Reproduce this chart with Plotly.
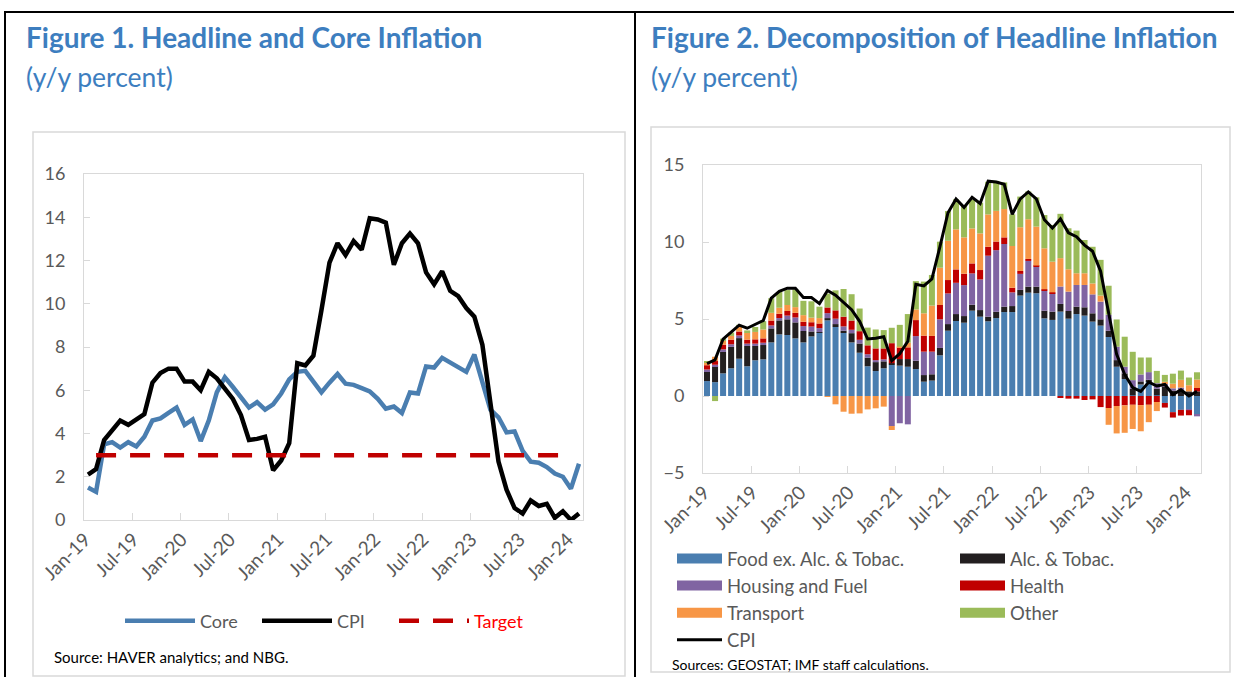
import plotly.graph_objects as go

# ---------------- data ----------------
months = ["Jan-19", "Feb-19", "Mar-19", "Apr-19", "May-19", "Jun-19", "Jul-19", "Aug-19", "Sep-19", "Oct-19", "Nov-19", "Dec-19",
          "Jan-20", "Feb-20", "Mar-20", "Apr-20", "May-20", "Jun-20", "Jul-20", "Aug-20", "Sep-20", "Oct-20", "Nov-20", "Dec-20",
          "Jan-21", "Feb-21", "Mar-21", "Apr-21", "May-21", "Jun-21", "Jul-21", "Aug-21", "Sep-21", "Oct-21", "Nov-21", "Dec-21",
          "Jan-22", "Feb-22", "Mar-22", "Apr-22", "May-22", "Jun-22", "Jul-22", "Aug-22", "Sep-22", "Oct-22", "Nov-22", "Dec-22",
          "Jan-23", "Feb-23", "Mar-23", "Apr-23", "May-23", "Jun-23", "Jul-23", "Aug-23", "Sep-23", "Oct-23", "Nov-23", "Dec-23",
          "Jan-24", "Feb-24"]

tick_labels = ["Jan-19", "Jul-19", "Jan-20", "Jul-20", "Jan-21", "Jul-21", "Jan-22", "Jul-22", "Jan-23", "Jul-23", "Jan-24"]

cpi = [2.1, 2.35, 3.7, 4.15, 4.6, 4.4, 4.65, 4.9, 6.35, 6.8, 7.0, 7.0,
       6.4, 6.4, 6.0, 6.85, 6.55, 6.1, 5.6, 4.85, 3.7, 3.75, 3.85, 2.3,
       2.75, 3.55, 7.25, 7.15, 7.6, 9.7, 11.9, 12.8, 12.25, 12.9, 12.5, 13.95,
       13.9, 13.75, 11.8, 12.8, 13.25, 12.8, 11.45, 10.9, 11.5, 10.6, 10.35, 9.8,
       9.4, 8.1, 5.4, 2.7, 1.4, 0.55, 0.3, 0.9, 0.65, 0.75, 0.1, 0.4,
       0.0, 0.3]

core = [1.5, 1.3, 3.5, 3.6, 3.35, 3.6, 3.4, 3.85, 4.6, 4.7, 4.95, 5.2,
        4.4, 4.65, 3.65, 4.6, 5.9, 6.6, 6.15, 5.65, 5.2, 5.45, 5.1, 5.35,
        5.85, 6.5, 6.85, 6.9, 6.4, 5.9, 6.35, 6.75, 6.3, 6.25, 6.1, 5.95,
        5.6, 5.15, 5.25, 4.95, 5.9, 5.85, 7.1, 7.05, 7.5, 7.3, 7.1, 6.85,
        7.65, 6.3, 5.1, 4.75, 4.05, 4.1, 3.2, 2.7, 2.65, 2.45, 2.15, 2.0,
        1.45, 2.6]

target = [None, 3, 3, 3, 3, 3, 3, 3, 3, 3, 3, 3,
          3, 3, 3, 3, 3, 3, 3, 3, 3, 3, 3, 3,
          3, 3, 3, 3, 3, 3, 3, 3, 3, 3, 3, 3,
          3, 3, 3, 3, 3, 3, 3, 3, 3, 3, 3, 3,
          3, 3, 3, 3, 3, 3, 3, 3, 3, 3, 3, 3,
          None, None]

food = [0.97, 0.9, 1.47, 1.8, 2.42, 1.93, 2.32, 2.38, 3.48, 4.0, 3.96, 3.74,
        3.48, 3.87, 4.11, 4.91, 4.48, 4.09, 3.48, 2.81, 1.93, 1.62, 1.8, 2.03,
        1.97, 1.9, 1.75, 0.93, 1.0, 2.64, 4.24, 4.87, 4.76, 5.54, 5.15, 4.85,
        5.06, 5.45, 5.45, 6.52, 6.71, 6.67, 5.04, 4.94, 5.48, 5.02, 5.32, 5.22,
        4.83, 4.57, 3.83, 1.9, 1.1, 0.05, 0.75, 0.95, 0.05, -0.45, -1.05, -0.9,
        -0.87, -1.2]
alc = [0.65, 1.04, 1.39, 1.39, 1.34, 1.32, 0.93, 0.93, 0.91, 0.91, 1.02, 1.04,
       0.74, 0.32, 0.04, 0.15, 0.19, 0.15, 0.6, 0.6, 0.56, 0.58, 0.45, 0.1,
       0.43, 0.5, 0.54, 0.43, 0.41, 0.48, 0.43, 0.45, 0.43, 0.39, 0.43, 0.3,
       0.41, 0.35, 0.39, 0.37, 0.39, 0.43, 0.5, 0.54, 0.5, 0.5, 0.48, 0.54,
       0.54, 0.41, 0.41, 0.43, 0.37, 0.43, 0.2, 0.1, 0.43, 0.6, 0.35, 0.35,
       0.3, 0.3]
housing = [0.1, 0.09, 0.17, 0.17, 0.17, 0.15, 0.15, 0.15, 0.19, 0.15, 0.24, 0.32,
           0.32, 0.32, 0.26, 0.32, 0.35, 0.28, 0.22, 0.24, 0.22, 0.13, 0.13, -1.95,
           -1.77, -1.84, 1.6, 1.52, 1.47, 1.86, 1.99, 2.03, 2.01, 2.03, 1.99, 3.96,
           4.0, 4.07, 0.89, 1.04, 1.67, 1.3, 1.3, 1.19, 1.13, 1.26, 1.41, 1.45,
           1.23, 1.15, 1.04, 0.87, 0.43, 0.55, 0.45, 0.5, 0.35, 0.2, 0.15, 0.2,
           -0.05, -0.12]
health = [0.28, 0.24, 0.3, 0.3, 0.26, 0.26, 0.28, 0.28, 0.32, 0.28, 0.3, 0.3,
          0.28, 0.28, 0.3, 0.37, 0.54, 0.63, 0.6, 0.56, 0.58, 0.76, 0.71, 1.3,
          0.76, 0.76, 1.04, 1.04, 1.02, 0.93, 0.87, 0.87, 0.74, 0.65, 0.61, 0.58,
          0.56, 0.43, 0.3, 0.19, 0.13, 0.07, 0.09, 0.06, -0.07, -0.17, -0.17, -0.26,
          -0.22, -0.72, -0.78, -0.65, -0.61, -0.57, -0.59, -0.57, -0.39, -0.3, -0.35, -0.37,
          -0.33, 0.22]
transport = [0.2, 0.28, 0.24, 0.24, 0.3, 0.43, 0.48, 0.58, 0.5, 0.39, 0.39, 0.37,
             0.43, 0.3, 0.35, -0.02, -0.54, -1.02, -1.15, -1.13, -0.87, -0.8, -0.69, -0.26,
             0.05, 0.3, 0.69, 1.45, 1.97, 2.42, 2.55, 2.6, 2.36, 2.27, 2.38, 2.1,
             1.99, 1.84, 2.71, 2.84, 2.58, 2.53, 2.66, 1.99, 1.84, 1.45, 0.76, 0.76,
             0.71, 0.39, -1.09, -1.78, -1.78, -1.57, -1.7, -1.13, -0.59, 0.12, 0.3, 0.5,
             0.4, 0.55]
other = [0.05, -0.33, 0.15, 0.22, 0.13, 0.17, 0.32, 0.54, 0.95, 1.02, 0.97, 1.15,
         0.93, 1.06, 0.74, 0.9, 1.3, 1.8, 1.71, 1.47, 1.15, 1.23, 1.19, 1.0,
         1.41, 1.86, 1.84, 2.06, 1.99, 1.69, 1.93, 1.95, 2.1, 1.88, 1.99, 2.12,
         1.95, 1.73, 2.06, 1.99, 1.8, 1.9, 2.16, 2.38, 2.88, 2.66, 2.77, 2.16,
         2.38, 2.32, 1.88, 1.77, 1.95, 1.84, 1.1, 0.95, 0.8, 0.45, 0.65, 0.6,
         0.5, 0.47]

component_names = ["Food ex. Alc. & Tobac.", "Alc. & Tobac.", "Housing and Fuel", "Health", "Transport", "Other"]
component_values = [food, alc, housing, health, transport, other]
component_colors = ["#4a7eb0", "#231f20", "#8064a2", "#c00000", "#f79646", "#9bbb59"]
legend_column = ["legend2", "legend3", "legend2", "legend3", "legend2", "legend3"]

# ---------------- figure ----------------
W, H = 1234, 677
FONT = "Lato"
GRAY = "#595959"
AXC = "#d9d9d9"
TITLE_BLUE = "#3d7ebf"

def px(x):
    return x / W

def py(y):
    return 1 - y / H

xs = list(range(len(months)))
label_pos = [months.index(t) for t in tick_labels]
boundary_ticks = [i * 6 - 0.5 for i in range(1, 10)]

fig = go.Figure()

# left chart lines
fig.add_trace(go.Scatter(x=xs, y=core, name="Core", mode="lines",
                         line=dict(color="#4a7eb0", width=4.5), xaxis="x", yaxis="y", legend="legend"))
fig.add_trace(go.Scatter(x=xs, y=cpi, name="CPI", mode="lines",
                         line=dict(color="black", width=4.5), xaxis="x", yaxis="y", legend="legend"))
fig.add_trace(go.Scatter(x=xs, y=target, name="<span style='color:#ff0000'>Target</span>", mode="lines",
                         line=dict(color="#c00000", width=4.5, dash="20px,14px"), xaxis="x", yaxis="y",
                         legend="legend"))

# right chart bars
for name, vals, col in zip(component_names, component_values, component_colors):
    fig.add_trace(go.Bar(x=xs, y=vals, name=name, marker=dict(color=col, line=dict(width=0)),
                         xaxis="x2", yaxis="y2", showlegend=False))
fig.add_trace(go.Scatter(x=xs, y=cpi, name="CPI", mode="lines", line=dict(color="black", width=3),
                         xaxis="x2", yaxis="y2", showlegend=False))

# legend entries for the right chart (wide swatches)
for name, col, lg in zip(component_names, component_colors, legend_column):
    fig.add_trace(go.Scatter(x=[None], y=[None], name=name, mode="lines", line=dict(color=col, width=11),
                             xaxis="x2", yaxis="y2", legend=lg))
fig.add_trace(go.Scatter(x=[None], y=[None], name="CPI", mode="lines", line=dict(color="black", width=3),
                         xaxis="x2", yaxis="y2", legend="legend2"))

common_x = dict(range=[-0.5, 61.5], tickmode="array", tickvals=label_pos, ticktext=tick_labels,
                tickangle=-45, ticks="", showline=True, linecolor=AXC, linewidth=1, mirror=True,
                showgrid=False, zeroline=False, tickfont=dict(family=FONT, size=19, color=GRAY),
                minor=dict(tickmode="array", tickvals=boundary_ticks, ticks="inside", ticklen=7,
                           tickcolor=AXC, showgrid=False),
                ticklabelstandoff=0, ticklabelshift=-3, fixedrange=True, automargin=False)
common_y = dict(ticks="inside", ticklen=6, tickcolor=AXC, showline=True, linecolor=AXC, linewidth=1,
                mirror=True, showgrid=False, tickfont=dict(family=FONT, size=18, color=GRAY),
                ticklabelstandoff=14, fixedrange=True, automargin=False)

fig.update_layout(
    template="none",
    width=W, height=H, margin=dict(l=0, r=0, t=0, b=0, autoexpand=False),
    paper_bgcolor="white", plot_bgcolor="white",
    font=dict(family=FONT, color=GRAY),
    barmode="relative", bargap=0.25,
    xaxis=dict(domain=[px(84), px(583)], anchor="y", **common_x),
    yaxis=dict(domain=[py(520), py(174)], anchor="x", range=[0, 16], dtick=2, zeroline=False, **common_y),
    xaxis2=dict(domain=[px(703), px(1201)], anchor="y2", **common_x),
    yaxis2=dict(domain=[py(473), py(165)], anchor="x2", range=[-5, 15], dtick=5, zeroline=False, **common_y),
    xaxis3=dict(overlaying="x2", anchor="free", position=py(396), range=[-0.5, 61.5],
                showline=True, linecolor=AXC, linewidth=1, showticklabels=False, showgrid=False,
                zeroline=False, tickmode="array", tickvals=boundary_ticks, ticks="inside", ticklen=5,
                tickcolor=AXC, fixedrange=True, automargin=False),
    legend=dict(orientation="h", x=px(120), y=py(621), xanchor="left", yanchor="middle",
                traceorder="normal", entrywidth=52, entrywidthmode="pixels",
                font=dict(family=FONT, size=18, color=GRAY), itemwidth=70, bgcolor="rgba(0,0,0,0)",
                itemclick=False, itemdoubleclick=False),
    legend2=dict(orientation="v", x=px(672), y=py(540), xanchor="left", yanchor="top",
                 traceorder="normal", font=dict(family=FONT, size=18.5, color=GRAY), itemwidth=45,
                 tracegroupgap=0, bgcolor="rgba(0,0,0,0)", itemclick=False, itemdoubleclick=False),
    legend3=dict(orientation="v", x=px(955), y=py(540), xanchor="left", yanchor="top",
                 traceorder="normal", font=dict(family=FONT, size=18.5, color=GRAY), itemwidth=45,
                 tracegroupgap=0, bgcolor="rgba(0,0,0,0)", itemclick=False, itemdoubleclick=False),
    showlegend=True,
)

# frames
shapes = [
    dict(type="line", xref="paper", yref="paper", x0=px(4), x1=1, y0=py(12), y1=py(12),
         line=dict(color="black", width=2)),
    dict(type="line", xref="paper", yref="paper", x0=px(5), x1=px(5), y0=py(12), y1=0,
         line=dict(color="black", width=2)),
    dict(type="line", xref="paper", yref="paper", x0=px(635), x1=px(635), y0=py(12), y1=0,
         line=dict(color="black", width=2)),
    dict(type="rect", xref="paper", yref="paper", x0=px(33), x1=px(625), y0=py(676), y1=py(132),
         line=dict(color=AXC, width=1.5), layer="below"),
    dict(type="rect", xref="paper", yref="paper", x0=px(651), x1=px(1230), y0=py(672), y1=py(127),
         line=dict(color=AXC, width=1.5), layer="below"),
]
fig.update_layout(shapes=shapes)

annotations = [
    dict(text="<b>Figure 1. Headline and Core Inflation</b>", x=px(24), y=py(37), xanchor="left",
         yanchor="middle", font=dict(family=FONT, size=28, color=TITLE_BLUE)),
    dict(text="(y/y percent)", x=px(24), y=py(77), xanchor="left", yanchor="middle",
         font=dict(family=FONT, size=26.5, color=TITLE_BLUE)),
    dict(text="<b>Figure 2. Decomposition of Headline Inflation</b>", x=px(649), y=py(37), xanchor="left",
         yanchor="middle", font=dict(family=FONT, size=28, color=TITLE_BLUE)),
    dict(text="(y/y percent)", x=px(649), y=py(77), xanchor="left", yanchor="middle",
         font=dict(family=FONT, size=26.5, color=TITLE_BLUE)),
    dict(text="Source: HAVER analytics; and NBG.", x=px(52), y=py(657), xanchor="left", yanchor="middle",
         font=dict(family=FONT, size=15, color="black")),
    dict(text="Sources: GEOSTAT; IMF staff calculations.", x=px(670), y=py(664), xanchor="left",
         yanchor="middle", font=dict(family=FONT, size=14, color="black")),
]
for a in annotations:
    a.update(xref="paper", yref="paper", showarrow=False)
fig.update_layout(annotations=annotations)

fig.write_html("out.html", config={"displayModeBar": False},
               post_script="document.body.style.margin='0px';document.body.style.padding='0px';")
